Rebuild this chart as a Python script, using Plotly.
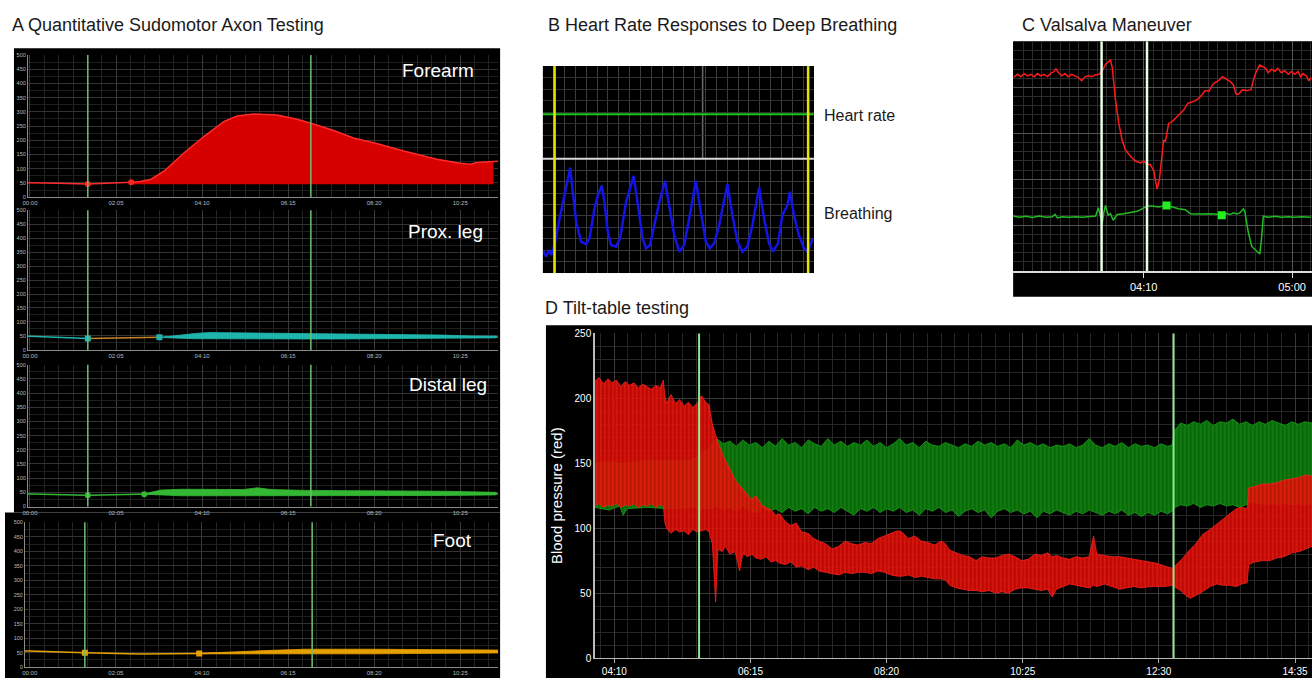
import plotly.graph_objects as go

W, H = 1312, 683

# ---------------- Panel A data (time in s, sweat output) ----------------
A_tick_vals = [0, 125, 250, 375, 500, 625]
A_tick_text = ["00:00", "02:05", "04:10", "06:15", "08:20", "10:25"]
A_y_ticks = [0, 50, 100, 150, 200, 250, 300, 350, 400, 450, 500]
A_stim_lines = [84, 408]
A_foot_stim_lines = [80, 410]

forearm_t = [-3, 0, 40, 84, 120, 147, 160, 176, 195, 224, 253, 282, 301, 325, 359, 388, 408, 440, 470, 505, 543, 591, 625, 640, 649, 665, 673, 680]
forearm_v = [51, 51, 49, 46, 48, 52, 55, 63, 92, 156, 214, 266, 285, 292, 289, 274, 260, 235, 208, 188, 162, 133, 119, 116, 122, 123, 125, 126]
forearm_marks_t = [84, 147]
forearm_marks_v = [46, 52]
forearm_base = 45
forearm_fill_start, forearm_fill_end = 147, 673

prox_line_t = [-3, 0, 84]
prox_line_v = [49, 49, 41]
prox_mid_t = [84, 188]
prox_mid_v = [41, 45]
prox_tail_t = [188, 200, 677, 680]
prox_tail_v = [45, 46, 46, 46]
prox_band_t = [195, 215, 240, 260, 300, 350, 400, 450, 500, 550, 600, 640, 677]
prox_band_up = [46, 52, 59, 62, 61, 60, 58, 57, 56, 55, 53, 50, 49]
prox_band_lo = [44, 42, 40, 39, 39, 39, 39, 39, 39, 40, 41, 42, 43]
prox_marks_t = [84, 188]
prox_marks_v = [41, 45]

distal_line_t = [-3, 0, 84, 166, 175, 677, 680]
distal_line_v = [44, 44, 40, 43, 44, 45, 45]
distal_band_t = [168, 190, 220, 280, 310, 330, 350, 400, 500, 600, 677]
distal_band_up = [46, 58, 61, 59, 60, 66, 60, 57, 56, 54, 50]
distal_band_lo = [43, 40, 38, 38, 38, 38, 38, 38, 38, 39, 41]
distal_marks_t = [84, 166]
distal_marks_v = [40, 43]

foot_line_t = [-7, 0, 80, 160, 246, 300, 680]
foot_line_v = [56, 56, 50, 45, 47, 50, 54]
foot_band_t = [250, 300, 350, 400, 450, 500, 550, 600, 650, 680]
foot_band_up = [48, 54, 58, 62, 63, 62, 61, 60, 59, 59]
foot_band_lo = [46, 48, 47, 46, 46, 46, 47, 48, 49, 49]
foot_marks_t = [80, 246]
foot_marks_v = [50, 47]

# ---------------- Panel B data (s, arbitrary units) ----------------
hr_t = [0, 75]
hr_v = [48, 48]
breath_t = [0.18, 0.92, 1.66, 2.30, 2.94, 3.40, 4.60, 5.98, 7.55, 8.28, 9.20, 10.58, 11.96, 12.88, 14.26, 15.18, 16.29, 17.02, 17.94, 18.86,
            20.24, 21.35, 23.00, 25.12, 26.23, 27.61, 28.53, 29.63, 30.83, 32.21, 33.77, 34.97, 36.35, 37.73, 39.11, 40.49, 42.33, 43.71,
            45.09, 46.19, 47.39, 48.77, 49.69, 51.07, 52.45, 53.83, 55.21, 56.59, 57.97, 59.82, 61.20, 62.58, 63.68, 65.06, 66.26, 67.64,
            68.37, 69.48, 70.86, 72.24, 73.25, 74.08, 74.72]
breath_v = [18.7, 14.4, 20.2, 15.9, 21.6, 27.4, 47.6, 67.7, 92.2, 70.6, 44.7, 27.4, 25.1, 30.3, 56.2, 67.7, 76.4, 62.0, 36.0, 24.5,
            23.1, 30.3, 62.0, 85.0, 62.0, 30.3, 21.6, 24.5, 41.8, 62.0, 80.7, 59.1, 33.1, 18.7, 24.5, 47.6, 80.7, 53.3,
            27.4, 21.6, 25.9, 41.8, 56.2, 77.8, 50.4, 27.4, 18.7, 23.1, 41.8, 74.9, 47.6, 25.9, 18.7, 25.9, 50.4, 59.1,
            71.2, 50.4, 33.1, 21.6, 18.7, 25.9, 30.3]
B_markers = [3.22, 73.4]

# ---------------- Panel C data (s, arbitrary units) ----------------
C_tick_vals = [250, 300]
C_tick_text = ["04:10", "05:00"]
C_markers = [235.8, 251.1]
bp_t = [206.0, 207.5, 208.6, 209.7, 210.9, 212.0, 213.1, 214.2, 215.3, 216.4, 217.6, 218.7, 219.8, 220.4, 221.3, 222.4, 223.5, 224.6,
        225.7, 226.8, 228.0, 229.1, 230.2, 231.3, 232.4, 233.6, 234.9, 236.0, 237.1, 238.8, 239.4, 240.5, 241.6, 242.7, 243.8, 245.5,
        247.2, 248.9, 250.0, 251.1, 252.2, 253.4, 254.5, 255.3, 255.9, 256.7, 257.3, 257.8, 258.4, 259.5, 260.6, 261.7, 263.4, 264.9,
        266.2, 267.9, 269.4, 270.7, 272.0, 273.5, 275.2, 276.5, 277.6, 279.1, 280.2, 281.1, 281.9, 283.2, 284.7, 286.1, 287.2, 288.0,
        289.1, 289.9, 291.1, 291.9, 293.1, 294.2, 295.1, 296.4, 297.5, 298.7, 299.8, 300.9, 302.0, 302.9, 303.7, 304.8, 305.6, 306.3]
bp_v = [84.3, 85.7, 84.6, 86.0, 85.0, 85.7, 84.6, 86.0, 85.0, 85.7, 84.7, 86.1, 86.9, 88.1, 86.4, 85.0, 86.0, 84.6,
        85.7, 85.0, 84.3, 82.9, 84.6, 85.0, 84.6, 85.4, 85.7, 87.1, 90.0, 91.9, 88.6, 74.3, 64.3, 57.1, 52.9, 50.0,
        47.9, 47.1, 47.9, 46.4, 46.4, 43.6, 35.7, 40.0, 48.6, 57.1, 56.4, 60.0, 64.3, 65.0, 66.4, 67.9, 70.0, 73.1,
        73.6, 74.6, 76.4, 78.6, 78.3, 81.7, 82.9, 84.6, 83.6, 82.6, 81.1, 77.1, 76.9, 78.9, 78.6, 78.9, 84.3, 87.1,
        89.7, 89.0, 88.3, 86.4, 87.9, 86.9, 88.3, 86.4, 87.4, 85.7, 86.9, 85.7, 86.9, 84.6, 86.0, 85.0, 82.9, 84.3]
hrv_t = [206.0, 208.1, 210.3, 212.5, 214.8, 217.0, 219.2, 220.1, 220.9, 222.6, 224.8, 227.1, 229.3, 231.5, 233.8, 234.7, 235.5, 236.0,
         236.6, 237.1, 238.0, 238.8, 239.7, 241.1, 243.3, 245.5, 247.8, 249.4, 251.1, 252.8, 255.0, 257.6, 259.5, 261.7, 264.0, 265.7,
         267.9, 270.7, 272.9, 275.2, 276.3, 278.0, 279.1, 280.2, 281.3, 282.4, 283.6, 284.1, 285.2, 286.4, 287.7, 289.1, 289.7, 290.3,
         291.9, 294.2, 296.4, 298.7, 300.9, 303.1, 306.3]
hrv_v = [24.0, 23.4, 23.9, 23.3, 24.0, 23.4, 23.6, 24.7, 23.1, 23.6, 23.4, 23.7, 23.4, 23.6, 24.0, 27.6, 22.9, 20.7,
         25.7, 28.6, 24.3, 25.0, 22.1, 24.6, 25.0, 25.4, 26.0, 27.1, 28.3, 28.3, 27.9, 28.6, 27.9, 27.1, 26.7, 25.0,
         24.9, 25.0, 25.0, 24.6, 24.3, 25.0, 24.6, 25.4, 24.9, 25.3, 27.1, 25.7, 17.1, 10.7, 9.3, 7.4, 14.3, 23.9,
         23.4, 23.9, 23.4, 23.7, 23.4, 23.6, 23.4]
hr_marks_t = [257.7, 276.3]
hr_marks_v = [28.6, 24.3]

# ---------------- Panel D data (s, mmHg envelopes) ----------------
D_tick_vals = [250, 375, 500, 625, 750, 875]
D_tick_text = ["04:10", "06:15", "08:20", "10:25", "12:30", "14:35"]
D_y_ticks = [0, 50, 100, 150, 200, 250]
D_markers = [327.8, 763.5]
green_t = [232, 245, 255, 258, 262, 280, 300, 320, 336, 340, 344, 350, 356, 362, 368, 374, 380, 386, 392, 398,
           404, 410, 416, 422, 428, 434, 440, 446, 452, 458, 464, 470, 476, 482, 488, 494, 500, 506, 512, 518,
           524, 530, 536, 542, 548, 554, 560, 566, 572, 578, 584, 590, 596, 602, 608, 614, 620, 626, 632, 638,
           644, 650, 656, 662, 668, 674, 680, 686, 692, 698, 704, 710, 716, 722, 728, 734, 740, 746, 752, 758,
           762, 765, 770, 776, 782, 788, 794, 800, 806, 812, 818, 824, 830, 836, 842, 848, 854, 860, 866, 872,
           878, 884, 890.6]
green_up = [150, 151, 150, 150, 150, 152, 152, 152, 160, 166, 169, 165, 167, 163, 168, 164, 166, 162, 167, 163,
            169, 164, 166, 162, 168, 165, 163, 169, 164, 167, 163, 166, 164, 168, 163, 166, 162, 165, 169, 164,
            166, 162, 167, 164, 163, 166, 164, 162, 165, 163, 167, 164, 166, 163, 165, 162, 168, 164, 166, 163,
            165, 162, 164, 163, 165, 162, 164, 169, 164, 162, 165, 163, 166, 162, 165, 163, 164, 162, 165, 163,
            164, 176, 181, 179, 182, 180, 183, 179, 182, 181, 184, 180, 182, 179, 182, 180, 183, 181, 179, 182,
            180, 182, 181]
green_lo = [116, 114, 117, 110, 115, 116, 115, 116, 115, 115, 117, 114, 116, 113, 117, 114, 112, 116, 113, 115,
            112, 116, 113, 115, 111, 116, 113, 115, 112, 116, 113, 110, 115, 113, 116, 112, 115, 113, 116, 112,
            114, 110, 115, 113, 116, 112, 114, 109, 113, 115, 112, 114, 108, 113, 115, 112, 114, 111, 113, 108,
            113, 111, 114, 112, 110, 113, 111, 114, 112, 110, 113, 111, 114, 110, 112, 109, 112, 110, 113, 111,
            113, 116, 118, 117, 119, 116, 118, 117, 119, 117, 118, 116, 118, 120, 119, 118, 119, 118, 119, 118,
            119, 118, 119]
red_t = [232, 236, 240, 244, 248, 252, 256, 260, 264, 268, 272, 276, 280, 284, 288, 292, 295, 296.5, 298, 302,
         306, 310, 314, 318, 322, 326, 330, 334, 337, 340, 343, 345, 349, 352, 356, 361, 365, 368, 372, 376,
         380, 385, 389, 394, 398, 402, 407, 412, 417, 422, 428, 433, 438, 444, 450, 456, 462, 468, 474, 480,
         486, 492, 498, 504, 510, 514, 520, 526, 532, 538, 544, 550, 554, 558, 564, 570, 576, 582, 588, 594,
         600, 606, 612, 618, 624, 630, 636, 642, 648, 652, 656, 662, 668, 674, 680, 686, 690, 693, 700, 707,
         714, 720, 727, 734, 741, 748, 755, 762, 766, 770, 775, 779, 784, 790, 797, 803, 809, 815, 821, 826,
         831, 832.5, 838, 845, 852, 858, 865, 872, 879, 885, 890.6]
red_up = [213, 216, 211, 215, 212, 214, 209, 213, 210, 212, 208, 211, 209, 207, 210, 208, 214, 201, 196, 203,
          196, 199, 194, 197, 193, 196, 202, 197, 195, 180, 172, 166, 158, 152, 146, 137, 133, 130, 126, 122,
          125, 118, 116, 114, 110, 111, 105, 102, 104, 97, 96, 92, 90, 88, 84, 86, 90, 88, 87, 89,
          88, 92, 94, 96, 98, 97, 92, 94, 90, 89, 87, 90, 88, 83, 81, 79, 78, 75, 78, 77,
          77, 79, 80, 78, 75, 76, 80, 79, 81, 78, 79, 77, 76, 78, 77, 78, 94, 80, 79, 78,
          78, 77, 76, 75, 74, 73, 71, 69, 72, 75, 80, 84, 88, 95, 99, 103, 107, 111, 115, 116,
          115, 131, 132, 134, 134, 135, 137, 138, 139, 141, 140]
red_lo = [117, 119, 116, 118, 117, 119, 116, 118, 117, 119, 116, 118, 117, 119, 116, 118, 117, 104, 100, 96,
          99, 97, 98, 95, 99, 97, 98, 99, 97, 88, 43, 84, 82, 86, 80, 82, 67, 81, 78, 80,
          77, 76, 78, 74, 75, 73, 72, 74, 70, 71, 68, 70, 67, 66, 65, 64, 66, 65, 66, 66,
          65, 67, 66, 64, 63, 63, 64, 62, 63, 62, 61, 61, 60, 56, 54, 53, 52, 52, 51, 52,
          50, 51, 50, 53, 54, 54, 53, 52, 53, 47, 53, 55, 57, 56, 55, 54, 56, 55, 57, 55,
          53, 54, 55, 54, 55, 55, 55, 56, 54, 52, 48, 46, 48, 51, 55, 57, 56, 56, 55, 57,
          58, 72, 74, 75, 75, 77, 78, 81, 82, 84, 86]

# ---------------- helpers ----------------
def xd(a, b):
    return [a / W, b / W]

def yd(top, bottom):
    return [1 - bottom / H, 1 - top / H]

fig = go.Figure()
layout = {}
shapes = []
annotations = []

def ax_names(n):
    return ("x" if n == 1 else f"x{n}"), ("y" if n == 1 else f"y{n}")

def set_axes(n, xdom, ydom, xcfg, ycfg):
    xn, yn = ax_names(n)
    xcfg.update(domain=xdom, anchor=yn, zeroline=False, fixedrange=True)
    ycfg.update(domain=ydom, anchor=xn, zeroline=False, fixedrange=True)
    layout["xaxis" if n == 1 else f"xaxis{n}"] = xcfg
    layout["yaxis" if n == 1 else f"yaxis{n}"] = ycfg

def rect(x0, y0, x1, y1, color="black"):
    shapes.append(dict(type="rect", xref="paper", yref="paper", x0=x0 / W, x1=x1 / W,
                       y0=1 - y1 / H, y1=1 - y0 / H, fillcolor=color, line=dict(width=0), layer="below"))

def vline(n, x, color, width):
    xn, yn = ax_names(n)
    shapes.append(dict(type="line", xref=xn, yref=f"{yn} domain", x0=x, x1=x, y0=0, y1=1,
                       line=dict(color=color, width=width), layer="above"))

def line_trace(n, t, v, color, width):
    xn, yn = ax_names(n)
    fig.add_trace(go.Scatter(x=t, y=v, mode="lines", line=dict(color=color, width=width),
                             xaxis=xn, yaxis=yn, showlegend=False, hoverinfo="skip"))

def band_trace(n, t, up, lo, color, edge=None, pattern=None):
    xn, yn = ax_names(n)
    kw = {}
    if pattern:
        kw["fillpattern"] = pattern
    fig.add_trace(go.Scatter(x=list(t) + list(t)[::-1], y=list(up) + list(lo)[::-1], mode="lines",
                             fill="toself", fillcolor=color, line=dict(color=edge or color, width=0.8),
                             xaxis=xn, yaxis=yn, showlegend=False, hoverinfo="skip", **kw))

def mark_trace(n, t, v, color, symbol, size):
    xn, yn = ax_names(n)
    fig.add_trace(go.Scatter(x=t, y=v, mode="markers", marker=dict(color=color, symbol=symbol, size=size),
                             xaxis=xn, yaxis=yn, showlegend=False, hoverinfo="skip"))

def text(x, y, s, size, color="#1a1a1a", anchor="left"):
    annotations.append(dict(xref="paper", yref="paper", x=x / W, y=1 - y / H, text=s, showarrow=False,
                            xanchor=anchor, yanchor="middle", font=dict(size=size, color=color,
                                                                        family="Liberation Sans, Arial")))

# ---------------- black backgrounds ----------------
rect(9, 44, 497, 515)
rect(0, 515, 497, 683)
rect(540, 62, 812, 272)
rect(1012, 37, 1312, 296)
rect(543, 325, 1312, 683)

# ---------------- Panel A ----------------
A_rows = [(50.7, 195, 23), (208.3, 350, 23), (365, 509, 23), (525, 672, 20)]
for i, (top, bottom, left) in enumerate(A_rows):
    n = i + 1
    xr0 = -3 if n < 4 else -7
    set_axes(n, xd(left, 495), yd(top, bottom),
             dict(range=[xr0, 680], tickmode="array", tickvals=A_tick_vals, ticktext=A_tick_text,
                  tickfont=dict(size=6, color="#bbbbbb"), showgrid=True, gridcolor="#3a3a3a", gridwidth=1,
                  minor=dict(tickmode="linear", tick0=0, dtick=125 / 6, showgrid=True, gridcolor="#242424"),
                  showline=True, linecolor="#8a8a8a", linewidth=1, ticks=""),
             dict(range=[0, 500], tickmode="array", tickvals=A_y_ticks,
                  tickfont=dict(size=5.5, color="#bbbbbb"), showgrid=True, gridcolor="#333333",
                  minor=dict(tickmode="linear", tick0=0, dtick=25, showgrid=True, gridcolor="#1e1e1e"),
                  showline=True, linecolor="#8a8a8a", linewidth=1, ticks=""))
    for s in (A_stim_lines if n < 4 else A_foot_stim_lines):
        vline(n, s, "#6fbf6f", 1.5)

# Forearm
ff_t = [t for t in forearm_t if forearm_fill_start <= t <= forearm_fill_end]
ff_v = [v for t, v in zip(forearm_t, forearm_v) if forearm_fill_start <= t <= forearm_fill_end]
fig.add_trace(go.Scatter(x=ff_t + [forearm_fill_end, forearm_fill_start], y=ff_v + [forearm_base, forearm_base],
                         mode="lines", fill="toself", fillcolor="#d60000", line=dict(width=0),
                         xaxis="x", yaxis="y", showlegend=False, hoverinfo="skip"))
line_trace(1, forearm_t, forearm_v, "#ff2a2a", 1.5)
mark_trace(1, forearm_marks_t, forearm_marks_v, "#ff2020", "circle", 6)

# Prox leg
teal = "#1fb5ad"
band_trace(2, prox_band_t, prox_band_up, prox_band_lo, teal)
line_trace(2, prox_line_t, prox_line_v, teal, 1.5)
line_trace(2, prox_mid_t, prox_mid_v, "#c8842a", 1.5)
line_trace(2, prox_tail_t, prox_tail_v, teal, 1.5)
mark_trace(2, prox_marks_t, prox_marks_v, teal, "square", 6)

# Distal leg
grn = "#34b834"
band_trace(3, distal_band_t, distal_band_up, distal_band_lo, grn)
line_trace(3, distal_line_t, distal_line_v, grn, 1.5)
mark_trace(3, distal_marks_t, distal_marks_v, grn, "circle", 6)

# Foot
org = "#e6a000"
band_trace(4, foot_band_t, foot_band_up, foot_band_lo, org)
line_trace(4, foot_line_t, foot_line_v, org, 1.5)
mark_trace(4, foot_marks_t, foot_marks_v, org, "square", 6)

text(435, 66, "Forearm", 19, "white", "center")
text(442, 230, "Prox. leg", 19, "white", "center")
text(445, 385, "Distal leg", 19, "white", "center")
text(449, 543, "Foot", 19, "white", "center")

# ---------------- Panel B ----------------
set_axes(5, xd(540, 812), yd(62, 156),
         dict(range=[0, 75], showticklabels=False, showgrid=True, gridcolor="#3c3c3c", tickmode="linear",
              tick0=0, dtick=3, ticks=""),
         dict(range=[0, 100], showticklabels=False, showgrid=True, gridcolor="#303030", tickmode="linear",
              tick0=0, dtick=12.5, ticks=""))
set_axes(6, xd(540, 812), yd(156, 272),
         dict(range=[0, 75], showticklabels=False, showgrid=True, gridcolor="#3c3c3c", tickmode="linear",
              tick0=0, dtick=3, ticks=""),
         dict(range=[0, 100], showticklabels=False, showgrid=True, gridcolor="#383838", tickmode="linear",
              tick0=0, dtick=10, ticks=""))
shapes.append(dict(type="line", xref="x5", yref="y5 domain", x0=44.2, x1=44.2, y0=0, y1=1,
                   line=dict(color="#6a6a6a", width=1.5), layer="below"))
line_trace(5, hr_t, hr_v, "#18c818", 2)
line_trace(6, breath_t, breath_v, "#1414e6", 2.5)
shapes.append(dict(type="line", xref="paper", yref="paper", x0=540 / W, x1=812 / W, y0=1 - 156 / H, y1=1 - 156 / H,
                   line=dict(color="#d8d8d8", width=2)))
for m in B_markers:
    vline(5, m, "#e6e600", 2.5)
    vline(6, m, "#e6e600", 2.5)
text(820, 112, "Heart rate", 16)
text(820, 212, "Breathing", 16)

# ---------------- Panel C ----------------
set_axes(7, xd(1012, 1312), yd(37, 270),
         dict(range=[206, 306.7], tickmode="array", tickvals=C_tick_vals, ticktext=C_tick_text,
              tickfont=dict(size=11, color="white", family="Liberation Sans, Arial"), ticks="outside", ticklen=5,
              tickcolor="#dddddd", showgrid=True, gridcolor="#555555",
              minor=dict(tickmode="linear", tick0=250, dtick=3.125, showgrid=True, gridcolor="#2c2c2c"),
              showline=True, linecolor="#dddddd", linewidth=1.5),
         dict(range=[0, 100], showticklabels=False, tickmode="linear", tick0=0, dtick=20, showgrid=True,
              gridcolor="#555555", ticks="",
              minor=dict(tickmode="linear", tick0=0, dtick=4, showgrid=True, gridcolor="#2c2c2c")))
line_trace(7, bp_t, bp_v, "#ff1a1a", 1.5)
line_trace(7, hrv_t, hrv_v, "#22bb22", 1.5)
mark_trace(7, hr_marks_t, hr_marks_v, "#22ee22", "square", 8)
for m in C_markers:
    vline(7, m, "#e8ffe8", 2.5)

# ---------------- Panel D ----------------
set_axes(8, xd(592, 1312), yd(333.3, 662.7),
         dict(range=[232, 890.6], tickmode="array", tickvals=D_tick_vals, ticktext=D_tick_text,
              tickfont=dict(size=10, color="white", family="Liberation Sans Narrow, Liberation Sans, Arial"),
              ticks="outside", ticklen=4, tickcolor="#aaaaaa", showgrid=True, gridcolor="#3a3a3a",
              minor=dict(tickmode="linear", tick0=250, dtick=12.5, showgrid=True, gridcolor="#262626"),
              showline=True, linecolor="#bbbbbb", linewidth=1.5),
         dict(range=[0, 250], tickmode="array", tickvals=D_y_ticks,
              tickfont=dict(size=10, color="white", family="Liberation Sans Narrow, Liberation Sans, Arial"),
              ticks="", showgrid=True, gridcolor="#3a3a3a",
              minor=dict(tickmode="linear", tick0=0, dtick=10, showgrid=True, gridcolor="#262626"),
              showline=True, linecolor="#bbbbbb", linewidth=1.5,
              title=dict(text="Blood pressure (red)", font=dict(size=15, color="white",
                                                                 family="Liberation Sans, Arial"), standoff=8)))
band_trace(8, green_t, green_up, green_lo, "#0b700b", edge="#18a018",
           pattern=dict(shape="|", bgcolor="#0a680a", fgcolor="#17a017", size=4, solidity=0.35))
band_trace(8, red_t, red_up, red_lo, "rgba(236,0,0,0.9)", edge="#ff2020",
           pattern=dict(shape="|", bgcolor="rgba(215,10,0,0.86)", fgcolor="#ff2424", size=4, solidity=0.4))
for m in D_markers:
    vline(8, m, "#90e890", 2)

# ---------------- panel titles ----------------
text(5, 20, "A Quantitative Sudomotor Axon Testing", 18)
text(543, 20, "B Heart Rate Responses to Deep Breathing", 18)
text(1019, 20, "C Valsalva Maneuver", 18)
text(540, 307, "D Tilt-table testing", 18)

fig.update_layout(**layout)
fig.update_layout(width=W, height=H, margin=dict(l=0, r=0, t=0, b=0), paper_bgcolor="white",
                  plot_bgcolor="black", shapes=shapes, annotations=annotations, showlegend=False,
                  hovermode=False, font=dict(family="Liberation Sans, Arial"))
fig.write_html("out.html", config={"displayModeBar": False, "staticPlot": True},
               post_script="document.body.style.margin='0';document.body.style.overflow='hidden';")
